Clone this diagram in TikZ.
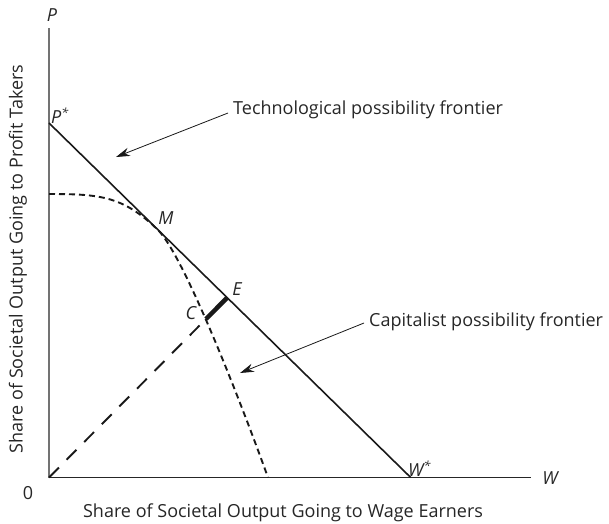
\documentclass[tikz,border=0pt]{standalone}
\usepackage{fontspec}
\setmainfont{Open Sans}
\usetikzlibrary{arrows.meta}
\begin{document}
\begin{tikzpicture}[x=1pt,y=-1pt,
  txt/.style={font=\fontsize{18}{21}\selectfont, inner sep=0pt, text=black!85},
  lab/.style={font=\fontsize{18}{21}\selectfont\itshape, inner sep=0pt, text=black!85},
  axisv/.style={draw=black!55, line width=1.4pt},
  axish/.style={draw=black!85, line width=1.1pt},
  frontier/.style={draw=black!90, line width=1.6pt},
  capcurve/.style={draw=black!90, line width=1.9pt, dash pattern=on 6pt off 4pt},
  rayline/.style={draw=black!90, line width=1.9pt, dash pattern=on 14pt off 11pt},
  cseg/.style={draw=black!90, line width=4.5pt},
  leader/.style={draw=black!90, line width=0.8pt, -{Stealth[length=14pt,width=8.5pt]}}]
\useasboundingbox (0,0) rectangle (609,523);
\coordinate (O) at (49,477.5);
\coordinate (Ps) at (49,123);
\coordinate (Ws) at (410.7,477.5);
\coordinate (Ptop) at (49,28);
\coordinate (Wend) at (531,477.5);
\coordinate (K0) at (49,194);
\coordinate (M) at (158,230);
\coordinate (K1) at (268,477.5);
\coordinate (C) at (206,319);
\coordinate (E) at (intersection of O--C and Ps--Ws);
\draw[axisv] (O) -- (Ptop);
\draw[axish] (O) -- (Wend);
\draw[frontier] (Ps) -- (Ws);
\draw[capcurve] (K0) .. controls (100,194) and (123,196) .. (M) .. controls (184,256) and (240,400) .. (K1);
\draw[rayline] (O) -- (C);
\draw[cseg] (C) -- (E);
\node[lab] (lP) at (52,15) {P};
\node[lab] (lPs) at (60,116) {P\textsuperscript{*}};
\node[lab] (lM) at (166,218) {M};
\node[lab] (lE) at (237,289) {E};
\node[lab] (lC) at (191,313) {C};
\node[lab, anchor=south west] (lWs) at (408,477) {W\textsuperscript{*}};
\node[lab] (lW) at (550,478) {W};
\node[txt] (l0) at (28,493) {0};
\node[txt, anchor=west, inner xsep=5pt] (tech) at (228,110) {Technological possibility frontier};
\node[txt, anchor=west, inner xsep=5pt] (capl) at (364,322) {Capitalist possibility frontier};
\coordinate (techtip) at (116,157);
\coordinate (captip) at (240,373);
\draw[leader] ([yshift=-3pt]tech.west) -- (techtip);
\draw[leader] ([yshift=-1pt]capl.west) -- (captip);
\node[txt] (xlab) at (283,513) {Share of Societal Output Going to Wage Earners};
\node[txt, rotate=90] (ylab) at (18,259) {Share of Societal Output Going to Profit Takers};
\end{tikzpicture}
\end{document}
